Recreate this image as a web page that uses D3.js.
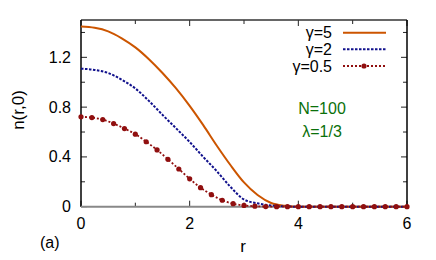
<!DOCTYPE html>
<html>
<head>
<meta charset="utf-8">
<script src="https://cdn.jsdelivr.net/npm/d3@7"></script>
<style>
  body { margin: 0; background: #fff; }
  svg text { font-family: "Liberation Sans", Arial, sans-serif; }
</style>
</head>
<body>
<svg id="vis" width="436" height="260"></svg>
<script>
// values
var r5 = [0, 0.25, 0.5, 0.75, 1.0, 1.25, 1.5, 1.75, 2.0, 2.25, 2.5, 2.75, 3.0, 3.25, 3.5, 3.75, 4.0, 5.0, 6.0];
var n5 = [1.447, 1.437, 1.409, 1.353, 1.28, 1.185, 1.074, 0.95, 0.81, 0.655, 0.49, 0.335, 0.195, 0.094, 0.03, 0.008, 0, 0, 0];

var r2 = [0, 0.25, 0.5, 0.75, 1.0, 1.25, 1.5, 1.75, 2.0, 2.25, 2.5, 2.75, 3.0, 3.25, 3.5, 3.75, 4.0, 5.0, 6.0];
var n2 = [1.109, 1.099, 1.074, 1.02, 0.95, 0.85, 0.738, 0.63, 0.52, 0.40, 0.285, 0.16, 0.058, 0.027, 0.01, 0.003, 0, 0, 0];

var r05 = d3.range(0, 31).map(function(i) { return i / 5; });
var n05 = [0.722, 0.716, 0.70, 0.668, 0.628, 0.583, 0.522, 0.456, 0.381, 0.303, 0.224, 0.153, 0.097, 0.052, 0.024, 0.01, 0.004, 0.001,
           0, 0, 0, 0, 0, 0, 0, 0, 0, 0, 0, 0, 0];

var labels = ['\u03b3=5', '\u03b3=2', '\u03b3=0.5'];
var colors = ['#cc5500', '#10108c', '#900f0f'];

var svg = d3.select('#vis');
var x = d3.scaleLinear().domain([0, 6]).range([81, 407]);
var y = d3.scaleLinear().domain([0, 1.5]).range([206.7, 20]);

var line = d3.line()
  .x(function(d) { return x(d[0]); })
  .y(function(d) { return y(d[1]); })
  .curve(d3.curveMonotoneX);

//ticks, inward on all four sides
var g = svg.append('g').attr('stroke', '#222').attr('stroke-width', 1);
d3.range(0, 7).forEach(function(v) {
  var len = v % 2 === 0 ? 6 : 4;
  g.append('line').attr('x1', x(v)).attr('x2', x(v)).attr('y1', y(0)).attr('y2', y(0) - len);
  g.append('line').attr('x1', x(v)).attr('x2', x(v)).attr('y1', y(1.5)).attr('y2', y(1.5) + len);
});
d3.range(0, 8).forEach(function(i) {
  var v = i * 0.2;
  var len = i % 2 === 0 ? 6 : 4;
  g.append('line').attr('x1', x(0)).attr('x2', x(0) + len).attr('y1', y(v)).attr('y2', y(v));
  g.append('line').attr('x1', x(6)).attr('x2', x(6) - len).attr('y1', y(v)).attr('y2', y(v));
});

//frame
svg.append('line').attr('x1', x(0)).attr('x2', x(6)).attr('y1', y(1.5)).attr('y2', y(1.5))
  .attr('stroke', '#333').attr('stroke-width', 1.5);
svg.append('line').attr('x1', x(0)).attr('x2', x(0)).attr('y1', y(1.5)).attr('y2', y(0))
  .attr('stroke', '#000').attr('stroke-width', 1.5);
svg.append('line').attr('x1', x(6)).attr('x2', x(6)).attr('y1', y(1.5)).attr('y2', y(0))
  .attr('stroke', '#000').attr('stroke-width', 1.5);
svg.append('line').attr('x1', x(0)).attr('x2', x(6)).attr('y1', y(0)).attr('y2', y(0))
  .attr('stroke', '#888').attr('stroke-width', 2);

//tick labels
svg.selectAll('.xl').data([0, 2, 4, 6]).enter().append('text')
  .attr('x', function(d) { return x(d); }).attr('y', 229)
  .attr('text-anchor', 'middle').attr('font-size', 16).text(function(d) { return d; });
svg.selectAll('.yl').data([0, 0.4, 0.8, 1.2]).enter().append('text')
  .attr('x', 71).attr('y', function(d) { return y(d) + 5.5; })
  .attr('text-anchor', 'end').attr('font-size', 16).text(function(d) { return d; });

svg.append('text').attr('x', 243).attr('y', 252).attr('text-anchor', 'middle')
  .attr('font-size', 17).text('r');
svg.append('text').attr('transform', 'translate(24,110) rotate(-90)').attr('text-anchor', 'middle')
  .attr('font-size', 17).text('n(r,0)');
svg.append('text').attr('x', 40).attr('y', 248).attr('font-size', 16).text('(a)');

//curves
svg.append('path').datum(d3.zip(r5, n5)).attr('d', line)
  .attr('fill', 'none').attr('stroke', colors[0]).attr('stroke-width', 2);
svg.append('path').datum(d3.zip(r2, n2)).attr('d', line)
  .attr('fill', 'none').attr('stroke', colors[1]).attr('stroke-width', 2).attr('stroke-dasharray', '2.5,1.5');
svg.append('path').datum(d3.zip(r05, n05)).attr('d', line)
  .attr('fill', 'none').attr('stroke', colors[2]).attr('stroke-width', 1.8).attr('stroke-dasharray', '2,2');
svg.selectAll('.dot').data(d3.zip(r05, n05)).enter().append('circle')
  .attr('cx', function(d) { return x(d[0]); }).attr('cy', function(d) { return y(d[1]); })
  .attr('r', 2.6).attr('fill', colors[2]);

//legend
var ly = [32.7, 49.3, 66];
labels.forEach(function(t, i) {
  svg.append('text').attr('x', 332).attr('y', ly[i] + 5.5).attr('text-anchor', 'end')
    .attr('font-size', 16).text(t);
  var l = svg.append('line').attr('x1', 343).attr('x2', 386).attr('y1', ly[i]).attr('y2', ly[i])
    .attr('stroke', colors[i]).attr('stroke-width', 2);
  if (i === 1) l.attr('stroke-dasharray', '2.5,1.5');
  if (i === 2) {
    l.attr('stroke-dasharray', '2,2').attr('stroke-width', 1.8);
    svg.append('circle').attr('cx', 364).attr('cy', ly[i]).attr('r', 2.6).attr('fill', colors[i]);
  }
});

svg.append('text').attr('x', 322).attr('y', 113.5).attr('text-anchor', 'middle')
  .attr('font-size', 16).attr('fill', '#0a700a').text('N=100');
svg.append('text').attr('x', 322).attr('y', 137).attr('text-anchor', 'middle')
  .attr('font-size', 16).attr('fill', '#0a700a').text('\u03bb=1/3');
</script>
</body>
</html>
